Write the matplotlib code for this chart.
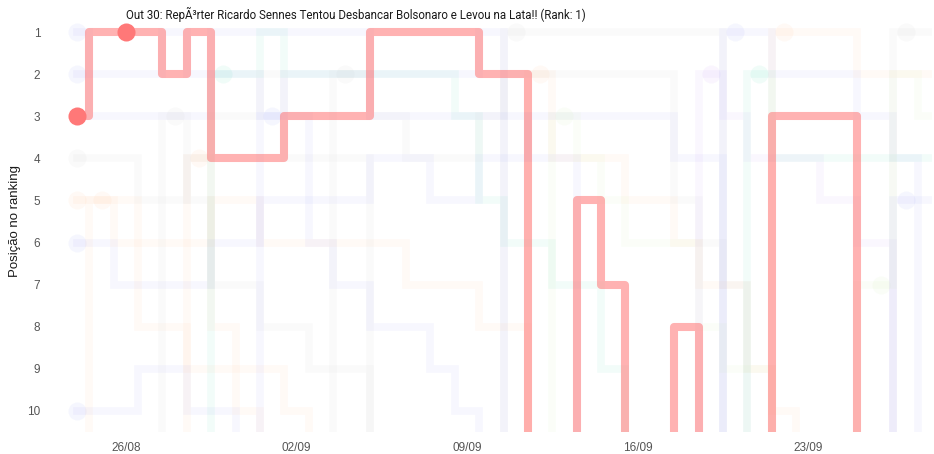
import pandas as pd
import matplotlib
matplotlib.use('Agg')
import matplotlib.pyplot as plt
import matplotlib.dates as mdates

N = None

# Datas da coleta (05/09 e 25/09 faltam)
datas = ['2020-08-24', '2020-08-25', '2020-08-26', '2020-08-27', '2020-08-28',
         '2020-08-29', '2020-08-30', '2020-08-31', '2020-09-01', '2020-09-02',
         '2020-09-03', '2020-09-04', '2020-09-06', '2020-09-07', '2020-09-08',
         '2020-09-09', '2020-09-10', '2020-09-11', '2020-09-12', '2020-09-13',
         '2020-09-14', '2020-09-15', '2020-09-16', '2020-09-17', '2020-09-18',
         '2020-09-19', '2020-09-20', '2020-09-21', '2020-09-22', '2020-09-23',
         '2020-09-24', '2020-09-26', '2020-09-27', '2020-09-28']

# Vídeo em destaque (None = fora do ranking)
destaque = [3, 1, 1, 1, 2, 1, 4, 4, 4, 3,
            3, 3, 1, 1, 1, 1, 2, 2, N, N,
            5, 7, N, N, 8, N, N, N, 3, 3,
            3, N, N, N]
destaque_titulo = 'Out 30: RepÃ³rter Ricardo Sennes Tentou Desbancar Bolsonaro e Levou na Lata!!'
destaque_ponto = '2020-08-26'

# Outros vídeos (fundo, bem apagados)
fundo = [
    [1, 2, 2, 2, 1, 2, 1, 1, 1, 1, 1, 1, 2, 2, 2, 2, 1, N, N, N, N, N, N, N, N, N, N, N, N, N, N, N, N, N],
    [2, 3, 3, 3, 3, 3, 2, 2, 3, 2, 2, 2, 3, 3, 3, 3, 3, 3, 4, 4, N, N, N, N, N, N, N, N, N, N, N, N, N, N],
    [4, 4, 4, 5, 5, 4, 3, 3, 2, 4, 4, 4, N, N, N, N, N, N, N, N, N, N, N, N, N, N, N, N, N, N, N, N, N, N],
    [5, 5, 5, 6, 6, 6, 5, 5, 6, 6, 6, 6, 6, 7, 7, 7, 8, 8, N, N, N, N, N, N, N, N, N, N, N, N, N, N, N, N],
    [6, 6, 7, 7, 7, 7, 6, 6, 5, 5, 5, 5, 4, 4, 5, 5, 4, 4, 3, 3, 3, 3, 3, 3, 4, 4, N, N, N, N, N, N, N, N],
    [10, 10, 10, 9, 9, 10, 10, N, N, N, N, N, N, N, N, N, N, N, N, N, N, N, N, N, N, N, N, N, N, N, N, N, N, N],
    [N, 5, 6, 8, 8, 9, 9, 10, N, N, N, N, N, N, N, N, N, N, N, N, N, N, N, N, N, N, N, N, N, N, N, N, N, N],
    [N, N, N, N, 3, 5, 7, 7, 8, 8, 9, 9, N, N, N, N, N, N, N, N, N, N, N, N, N, N, N, N, N, N, N, N, N, N],
    [N, N, N, N, N, 4, 8, 9, 9, 10, N, N, N, N, N, N, N, N, N, N, N, N, N, N, N, N, N, N, N, N, N, N, N, N],
    [N, N, N, N, N, N, 2, 2, 1, 2, 2, 2, 2, 2, 2, 3, 5, 6, 6, 7, 7, 9, N, N, N, N, N, N, N, N, N, N, N, N],
    [N, N, N, N, N, N, N, N, 3, 3, 6, 7, 8, 8, 9, 10, N, N, N, N, N, N, N, N, N, N, N, N, N, N, N, N, N, N],
    [N, N, N, N, N, N, N, N, N, N, N, 2, 3, 4, 4, 4, 3, 2, 2, 2, 2, 2, 2, 2, 5, 6, 7, N, N, N, N, N, N, N],
    [N, N, N, N, N, N, N, N, N, N, N, N, N, N, N, N, N, 1, 1, 1, 1, 1, 1, 1, 1, 1, N, N, N, N, N, N, N, N],
    [N, N, N, N, N, N, N, N, N, N, N, N, N, N, N, N, N, N, 2, 4, 4, 4, 5, 5, 6, 7, 7, 9, 10, N, N, N, N, N],
    [N, N, N, N, N, N, N, N, N, N, N, N, N, N, N, N, N, N, N, 3, 4, 5, 6, 6, 6, 8, 9, 9, N, N, N, N, N, N],
    [N, N, N, N, N, N, N, N, N, N, N, N, N, N, N, N, N, N, N, N, N, N, N, N, N, 2, 3, 4, 4, 4, 5, 6, N, N],
    [N, N, N, N, N, N, N, N, N, N, N, N, N, N, N, N, N, N, N, N, N, N, N, N, N, N, 1, 1, 2, 2, 2, 3, 4, N],
    [N, N, N, N, N, N, N, N, N, N, N, N, N, N, N, N, N, N, N, N, N, N, N, N, N, N, N, 2, 4, 4, 4, 4, 4, 4],
    [N, N, N, N, N, N, N, N, N, N, N, N, N, N, N, N, N, N, N, N, N, N, N, N, N, N, N, N, 1, 1, 1, 2, 2, 2],
    [N, N, N, N, N, N, N, N, N, N, N, N, N, N, N, N, N, N, N, N, N, N, N, N, N, N, N, N, N, N, N, 7, 2, 3],
    [N, N, N, N, N, N, N, N, N, N, N, N, N, N, N, N, N, N, N, N, N, N, N, N, N, N, N, N, N, N, N, N, 1, 1],
    [N, N, N, N, N, N, N, N, N, N, N, N, N, N, N, N, N, N, N, N, N, N, N, N, N, N, N, N, N, N, N, N, 5, 5],
]
cores_fundo = ['#636efa', '#636efa', '#b0b0b0', '#ffa15a', '#636efa', '#636efa',
               '#ffa15a', '#b0b0b0', '#ffa15a', '#00cc96', '#636efa', '#b0b0b0',
               '#b0b0b0', '#ffa15a', '#b6e880', '#ab63fa', '#636efa', '#00cc96',
               '#ffa15a', '#b6e880', '#b0b0b0', '#636efa']

FORA = 12  # valor usado para "fora do ranking" (abaixo do eixo)
x = pd.to_datetime(datas)

fig = plt.figure(figsize=(9.34, 4.54), dpi=100)
ax = fig.add_axes([64 / 934, 22 / 454, 868 / 934, 421 / 454])

# linhas de fundo
for serie, cor in zip(fundo, cores_fundo):
    y = [FORA if v is None else v for v in serie]
    ax.plot(x, y, drawstyle='steps-mid', color=cor, alpha=0.05, lw=5.5,
            solid_joinstyle='miter')
    i0 = next(i for i, v in enumerate(serie) if v is not None)
    ax.plot(x[i0], serie[i0], 'o', ms=13, color=cor, alpha=0.06, mec='none')

# linha em destaque
y = [FORA if v is None else v for v in destaque]
ax.plot(x, y, drawstyle='steps-mid', color='#ff7f7f', alpha=0.6, lw=5.8,
        solid_joinstyle='round', zorder=5)
ax.plot(x[0], destaque[0], 'o', ms=13, color='#ff7878', mec='none', zorder=6)
k = datas.index(destaque_ponto)
ax.plot(x[k], destaque[k], 'o', ms=13, color='#ff7878', mec='none', zorder=6)
ax.annotate(f'{destaque_titulo} (Rank: {destaque[k]})', xy=(x[k], destaque[k]),
            xytext=(0, 13), textcoords='offset points', ha='left', va='center',
            fontsize=8.3, family='Roboto', color='#1a1a1a', zorder=7,
            annotation_clip=False)

ax.set_ylim(10.5, 0.5)
ax.set_yticks(range(1, 11))
ax.set_xlim(pd.Timestamp('2020-08-23 11:00'), pd.Timestamp('2020-09-28 02:00'))
ax.set_xticks(pd.to_datetime(['2020-08-26', '2020-09-02', '2020-09-09',
                              '2020-09-16', '2020-09-23']))
ax.xaxis.set_major_formatter(mdates.DateFormatter('%d/%m'))
ax.tick_params(axis='both', length=0, labelsize=8.5, labelcolor='#555555')
ax.tick_params(axis='y', pad=17)
ax.tick_params(axis='x', pad=7)
for lab in ax.get_xticklabels() + ax.get_yticklabels():
    lab.set_family('Liberation Sans')
for s in ax.spines.values():
    s.set_visible(False)

fig.text(15 / 934, 1 - 221 / 454, 'Posição no ranking', rotation=90,
         ha='center', va='center', fontsize=9.5, family='Liberation Sans',
         color='#1a1a1a')

fig.savefig('out.png', dpi=100)
